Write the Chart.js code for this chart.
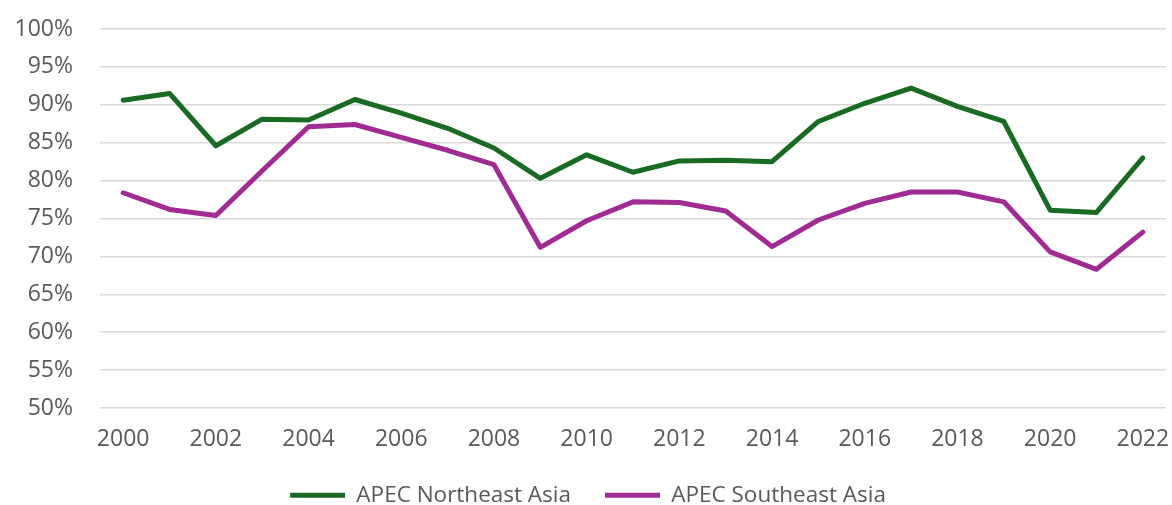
<!DOCTYPE html>
<html>
<head>
<meta charset="utf-8">
<script src="https://cdn.jsdelivr.net/npm/chart.js@4/dist/chart.umd.min.js"></script>
<style>
  html, body { margin: 0; padding: 0; background: #ffffff; }
  #wrap { width: 1172px; height: 505px; position: relative; }
</style>
</head>
<body>
<div id="wrap"><canvas id="chart"></canvas></div>
<script>
// Years on the category axis
const years = ['2000','2001','2002','2003','2004','2005','2006','2007','2008','2009','2010',
               '2011','2012','2013','2014','2015','2016','2017','2018','2019','2020','2021','2022'];

// Shares in percent
const northeastAsia = [90.6, 91.5, 84.6, 88.1, 88.0, 90.7, 88.9, 86.9, 84.3, 80.3, 83.4,
                       81.1, 82.6, 82.7, 82.5, 87.8, 90.2, 92.2, 89.8, 87.8, 76.1, 75.8, 83.0];
const southeastAsia = [78.4, 76.2, 75.4, 81.3, 87.1, 87.4, 85.7, 84.0, 82.1, 71.2, 74.7,
                       77.2, 77.1, 76.0, 71.3, 74.8, 77.0, 78.5, 78.5, 77.2, 70.6, 68.3, 73.2];

// Value axis range and tick step, in percent
const yMin = 50;
const yMax = 100;
const yStep = 5;

const seriesNames = ['APEC Northeast Asia', 'APEC Southeast Asia'];
const GREEN = '#196B24';
const PURPLE = '#A02B93';
const TEXT = '#595959';
const FONT = "'Open Sans', 'Liberation Sans', sans-serif";

new Chart(document.getElementById('chart'), {
  type: 'line',
  data: {
    labels: years,
    datasets: [
      { label: seriesNames[0], data: northeastAsia, borderColor: GREEN, backgroundColor: GREEN },
      { label: seriesNames[1], data: southeastAsia, borderColor: PURPLE, backgroundColor: PURPLE }
    ]
  },
  options: {
    responsive: true,
    maintainAspectRatio: false,
    animation: false,
    devicePixelRatio: 1,
    layout: { padding: { top: 29, right: 6, left: 10, bottom: 0 } },
    elements: {
      line: { borderWidth: 5, tension: 0, borderCapStyle: 'round', borderJoinStyle: 'round', fill: false },
      point: { radius: 0, hoverRadius: 0 }
    },
    scales: {
      x: {
        offset: true,
        grid: { display: false, drawTicks: false },
        border: { display: false },
        ticks: {
          autoSkip: false,
          maxRotation: 0,
          padding: 18,
          color: TEXT,
          font: { family: FONT, size: 23 },
          callback: function (value, index) {
            return index % 2 === 0 ? this.getLabelForValue(value) : '';
          }
        },
        afterFit: (scale) => {
          scale.height = 42;
          scale.paddingLeft = 0;
          scale.paddingRight = 0;
        }
      },
      y: {
        min: yMin,
        max: yMax,
        grid: { color: '#D9D9D9', lineWidth: 1.5, drawTicks: false },
        border: { display: false },
        ticks: {
          stepSize: yStep,
          padding: 27,
          color: TEXT,
          font: { family: FONT, size: 23 },
          callback: (v) => v + '%'
        },
        afterFit: (scale) => {
          scale.width = 90;
          scale.paddingTop = 0;
          scale.paddingBottom = 0;
        }
      }
    },
    plugins: {
      tooltip: { enabled: false },
      legend: {
        position: 'bottom',
        maxHeight: 55,
        labels: {
          color: TEXT,
          font: { family: FONT, size: 22.5 },
          boxWidth: 55,
          boxHeight: 5,
          padding: 34,
          generateLabels: (chart) => chart.data.datasets.map((ds, i) => ({
            text: ds.label,
            fillStyle: ds.borderColor,
            strokeStyle: ds.borderColor,
            lineWidth: 0,
            fontColor: TEXT,
            datasetIndex: i,
            hidden: false
          }))
        }
      }
    }
  }
});
</script>
</body>
</html>
